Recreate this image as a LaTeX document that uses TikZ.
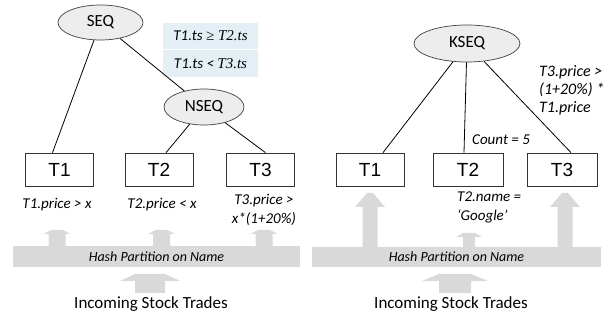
\documentclass[tikz,border=0pt]{standalone}
\usepackage{fontspec}
\setmainfont{Carlito}
\newfontfamily\boxfont{Liberation Sans}
\newfontfamily\serifit{Liberation Serif}
\usetikzlibrary{shapes.geometric}
\definecolor{opgray}{HTML}{EDEDED}
\definecolor{bargray}{HTML}{D9D9D9}
\definecolor{condblue}{HTML}{E3EFF5}
\newcommand{\uparrowshape}[7]{%
  \fill[bargray] (#1-#5,#2) -- (#1-#5,#3) -- (#1-#6,#3) -- (#1-#7,#4)
    -- (#1+#7,#4) -- (#1+#6,#3) -- (#1+#5,#3) -- (#1+#5,#2) -- cycle;}

\begin{document}
\begin{tikzpicture}[x=1pt,y=-1pt,
    op/.style={ellipse,draw=black!75,fill=opgray,line width=0.7pt,inner sep=0pt,
      minimum height=35pt,font=\fontsize{17}{20}\selectfont},
    stream/.style={rectangle,draw=black!80,line width=0.7pt,minimum width=68pt,
      minimum height=33pt,font=\boxfont\fontsize{19}{22}\selectfont},
    cond/.style={rectangle,fill=condblue,minimum width=95pt,inner sep=0pt,
      font=\fontsize{15}{18}\selectfont},
    pred/.style={inner sep=0pt,align=center,font=\itshape\fontsize{15}{19}\selectfont},
    bar/.style={rectangle,fill=bargray,inner sep=0pt,
      font=\itshape\fontsize{14}{17}\selectfont},
    src/.style={inner sep=0pt,font=\fontsize{17}{20}\selectfont},
    edge/.style={line width=0.8pt,black}]
  \useasboundingbox (0,0) rectangle (608,320);

  \node[op,minimum width=85pt] (seq) at (100.5,22.5) {SEQ};
  \node[op,minimum width=80pt,minimum height=36pt] (nseq) at (204,107) {NSEQ};
  \node[cond,minimum height=26pt] (cond1) at (210.5,36)
    {\textit{T1.ts} {\serifit\itshape ≥ T2.ts}};
  \node[cond,minimum height=27pt] (cond2) at (210.5,63.5)
    {\textit{T1.ts <} {\serifit\itshape T3.ts}};
  \node[stream] (lt1) at (59.5,169.5) {T1};
  \node[stream] (lt2) at (159,169.5) {T2};
  \node[stream] (lt3) at (260.5,169.5) {T3};

  \draw[edge] (seq) -- ([xshift=-7pt]lt1.north);
  \draw[edge] (seq) -- (nseq);
  \draw[edge] (nseq) -- ([xshift=7pt]lt2.north);
  \draw[edge] (nseq) -- ([xshift=5pt]lt3.north);

  \node[pred] (lp1) at (57,205) {T1.price > x};
  \node[pred] (lp2) at (162,205) {T2.price < x};
  \node[pred] (lp3) at (264,210) {T3.price >\\x*(1+20\%)};

  \node[bar,minimum width=287pt,minimum height=21pt] (lbar) at (156.5,256.5)
    {Hash Partition on Name};
  \uparrowshape{57}{247}{234}{230}{8.5}{13.5}{6}
  \uparrowshape{161.5}{247}{234}{230}{8.5}{13.5}{6}
  \uparrowshape{264}{247}{234}{230}{8.5}{13.5}{6}
  \uparrowshape{150}{293}{281}{274}{15}{30}{15}
  \node[src] (lin) at (151,304) {Incoming Stock Trades};

  \node[op,minimum width=106pt,minimum height=37pt] (kseq) at (467,43.5) {KSEQ};
  \node[stream] (rt1) at (370,169.5) {T1};
  \node[stream,minimum width=70pt] (rt2) at (468,169.5) {T2};
  \node[stream,minimum width=70pt] (rt3) at (562,169.5) {T3};

  \draw[edge] (kseq) -- ([xshift=13pt]rt1.north);
  \draw[edge] (kseq) -- ([xshift=-4pt]rt2.north);
  \draw[edge] (kseq) -- ([xshift=9pt]rt3.north);

  \node[pred,align=left,anchor=west,font=\itshape\fontsize{16}{18}\selectfont]
    (rp3) at (539,90) {T3.price >\\(1+20\%) *\\T1.price};
  \node[pred,anchor=west] (rcount) at (472,140) {Count = 5};
  \node[pred,align=left,anchor=west] (rp2) at (457,207.5) {T2.name =\\‘Google’};

  \node[bar,minimum width=289pt,minimum height=20pt] (rbar) at (456.5,257)
    {Hash Partition on Name};
  \uparrowshape{370}{248}{207}{193}{7.5}{15}{3}
  \uparrowshape{469}{248}{237}{233}{6}{13}{6}
  \uparrowshape{565}{248}{207}{193}{7.5}{15}{3}
  \uparrowshape{455}{293}{281}{274}{16}{33}{16}
  \node[src] (rin) at (451,304) {Incoming Stock Trades};
\end{tikzpicture}
\end{document}
